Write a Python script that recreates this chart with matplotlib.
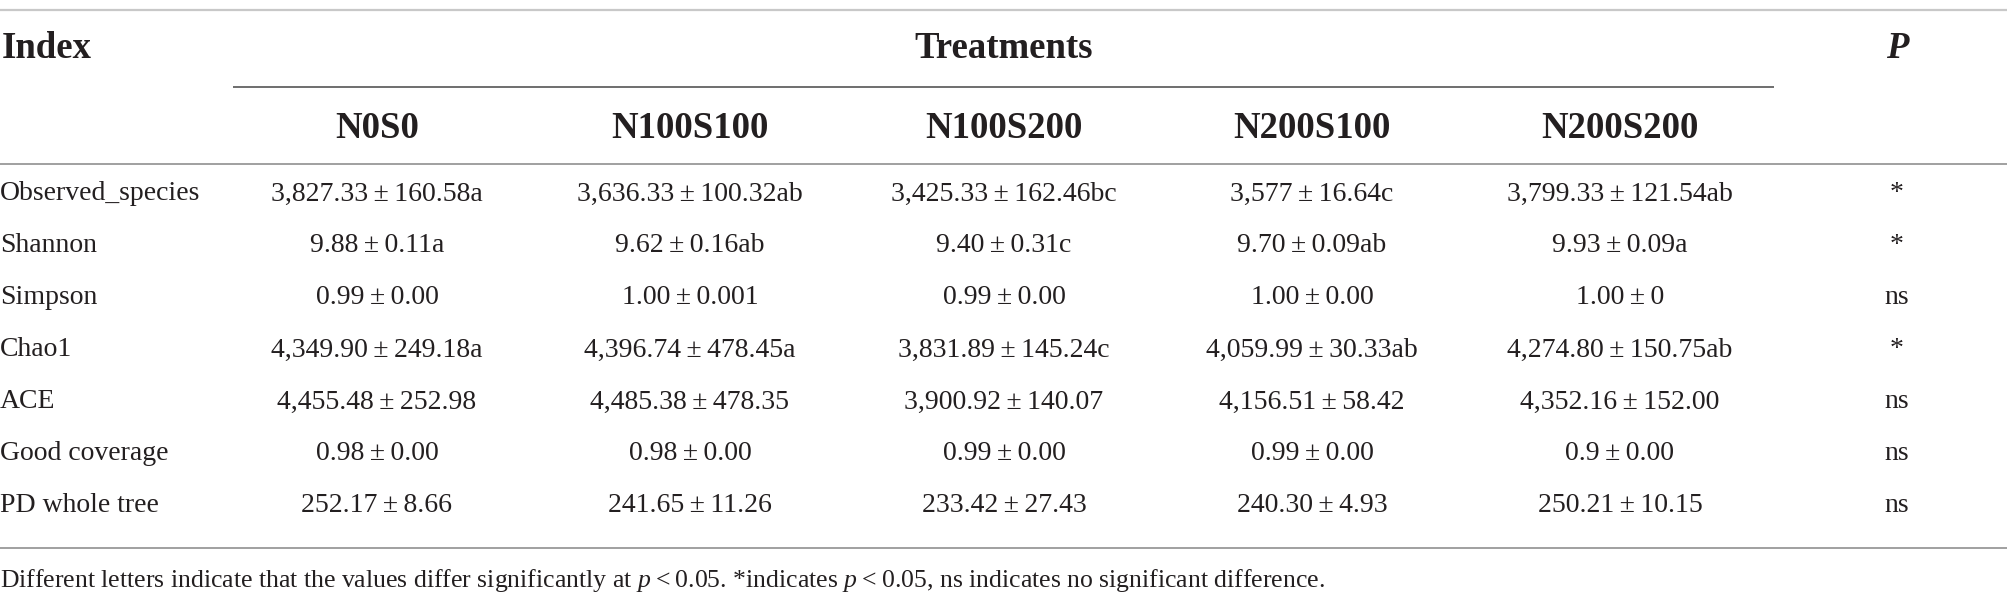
import matplotlib
matplotlib.use("Agg")
import matplotlib.pyplot as plt

plt.rcParams["font.family"] = ["Liberation Serif", "DejaVu Serif"]
plt.rcParams["mathtext.fontset"] = "custom"
plt.rcParams["mathtext.rm"] = "Liberation Serif"
plt.rcParams["mathtext.it"] = "Liberation Serif:italic"

TXT = "#231f20"
LINE = "#a0a0a0"
TS = "\u2009"  # thin space around the ± sign

indices = ["Observed_species", "Shannon", "Simpson", "Chao1", "ACE",
           "Good coverage", "PD whole tree"]
treatments = ["N0S0", "N100S100", "N100S200", "N200S100", "N200S200"]

n0s0 = ["3,827.33±160.58a", "9.88±0.11a", "0.99±0.00", "4,349.90±249.18a",
        "4,455.48±252.98", "0.98±0.00", "252.17±8.66"]
n100s100 = ["3,636.33±100.32ab", "9.62±0.16ab", "1.00±0.001", "4,396.74±478.45a",
            "4,485.38±478.35", "0.98±0.00", "241.65±11.26"]
n100s200 = ["3,425.33±162.46bc", "9.40±0.31c", "0.99±0.00", "3,831.89±145.24c",
            "3,900.92±140.07", "0.99±0.00", "233.42±27.43"]
n200s100 = ["3,577±16.64c", "9.70±0.09ab", "1.00±0.00", "4,059.99±30.33ab",
            "4,156.51±58.42", "0.99±0.00", "240.30±4.93"]
n200s200 = ["3,799.33±121.54ab", "9.93±0.09a", "1.00±0", "4,274.80±150.75ab",
            "4,352.16±152.00", "0.9±0.00", "250.21±10.15"]
p_sig = ["*", "*", "ns", "*", "ns", "ns", "ns"]

columns = [n0s0, n100s100, n100s200, n200s100, n200s200]

W, H = 2008, 608
fig = plt.figure(figsize=(W / 100, H / 100), dpi=100)
ax = fig.add_axes([0, 0, 1, 1])
ax.set_xlim(0, W); ax.set_ylim(H, 0); ax.axis("off")

col_x = [377, 690, 1004, 1312, 1620]
p_x = 1897
row_y0, row_dy = 194, 52

# rules
ax.plot([0, W], [10, 10], color="#c8c8c8", lw=1.6, solid_capstyle="butt")
ax.plot([233, 1774], [87, 87], color="#555555", lw=1.2, solid_capstyle="butt")
ax.plot([0, W], [164, 164], color=LINE, lw=1.4, solid_capstyle="butt")
ax.plot([0, W], [548, 548], color=LINE, lw=1.4, solid_capstyle="butt")

# header
ax.text(2, 49, "Index", fontsize=26.5, fontweight="bold", color=TXT, va="center")
ax.text(1004, 49, "Treatments", fontsize=26.5, fontweight="bold", color=TXT,
        ha="center", va="center")
ax.text(p_x, 49, "P", fontsize=26.5, fontweight="bold", fontstyle="italic",
        color=TXT, ha="center", va="center")
for x, t in zip(col_x, treatments):
    ax.text(x, 129, t, fontsize=26.5, fontweight="bold", color=TXT,
            ha="center", va="center")

# body
for i, name in enumerate(indices):
    y = row_y0 + i * row_dy
    ax.text(0, y, name, fontsize=20, color=TXT, va="center")
    for x, col in zip(col_x, columns):
        ax.text(x, y, col[i].replace("±", TS + "±" + TS), fontsize=20,
                color=TXT, ha="center", va="center")
    ax.text(p_x, y, p_sig[i], fontsize=20, color=TXT, ha="center", va="center")

# footnote
ax.text(0, 580, "Different letters indicate that the values differ significantly at "
        "$p$" + TS + "<" + TS + "0.05. *indicates $p$" + TS + "<" + TS +
        "0.05, ns indicates no significant difference.",
        fontsize=18.5, color=TXT, va="center")

fig.savefig("out.png", dpi=100, facecolor="white")
